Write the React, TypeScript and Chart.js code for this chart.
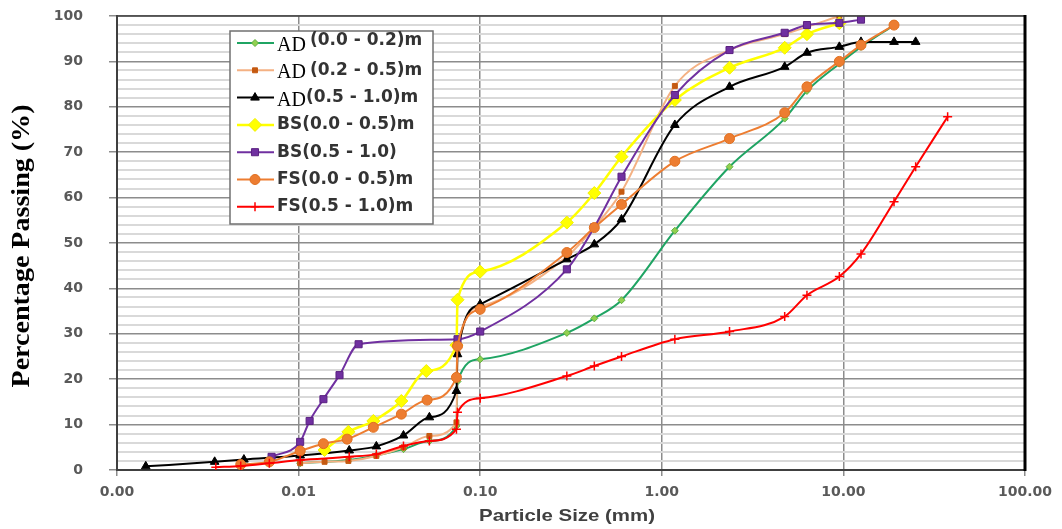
import React, { useEffect, useRef } from 'react';
import { Chart, registerables } from 'chart.js';
import { drawPoint } from 'chart.js/helpers';

Chart.register(...registerables);

// ---------- data (particle size in mm, percentage passing) ----------
const adTopSize = [0.0102, 0.019, 0.0268, 0.0378, 0.0525, 0.074, 0.075, 0.1, 0.3, 0.425, 0.6, 1.18, 2.36, 4.75, 6.3, 9.5, 12.5, 19];
const adTopPass = [1.5, 2.2, 3.2, 4.6, 6.4, 9.7, 19.5, 24.4, 30.2, 33.4, 37.4, 52.7, 66.8, 77.4, 83.5, 89.5, 93.2, 98];

const adMidSize = [0.0102, 0.0139, 0.0188, 0.0268, 0.0378, 0.0525, 0.074, 0.075, 0.1, 0.3, 0.425, 0.6, 1.18, 2.36, 4.75, 9.5];
const adMidPass = [1.5, 1.8, 2.0, 3.1, 5.0, 7.5, 10.5, 25.5, 36, 47, 53.5, 61.3, 84.6, 92.5, 96, 100];

const adDeepSize = [0.00144, 0.00345, 0.005, 0.0102, 0.019, 0.0268, 0.0378, 0.0525, 0.074, 0.075, 0.1, 0.3, 0.425, 0.6, 1.18, 2.36, 4.75, 6.3, 9.5, 12.5, 19, 25];
const adDeepPass = [0.8, 1.8, 2.3, 3.2, 4.3, 5.2, 7.6, 11.6, 17.4, 25.5, 36.5, 46.4, 49.7, 55.2, 76, 84.4, 88.8, 91.9, 93.2, 94.3, 94.3, 94.3];

const bsTopSize = [0.0139, 0.0188, 0.0258, 0.0368, 0.0505, 0.074, 0.075, 0.1, 0.3, 0.425, 0.6, 1.18, 2.36, 4.75, 6.3, 9.5];
const bsTopPass = [4.4, 8.4, 10.8, 15.2, 21.8, 27.5, 37.5, 43.7, 54.5, 61, 69, 81.5, 88.6, 93, 96, 98.4];

const bsDeepSize = [0.0071, 0.0102, 0.0115, 0.0137, 0.0168, 0.0214, 0.075, 0.1, 0.3, 0.425, 0.6, 1.18, 2.36, 4.75, 6.3, 9.5, 12.5];
const bsDeepPass = [2.9, 6.2, 10.8, 15.6, 20.9, 27.7, 28.8, 30.5, 44.2, 53.5, 64.6, 82.6, 92.5, 96.3, 98, 98.5, 99.2];

const fsTopSize = [0.0048, 0.0069, 0.0102, 0.0137, 0.0185, 0.0258, 0.0368, 0.051, 0.074, 0.075, 0.1, 0.3, 0.425, 0.6, 1.18, 2.36, 4.75, 6.3, 9.5, 12.5, 19];
const fsTopPass = [1.2, 1.8, 4.2, 5.8, 6.8, 9.4, 12.3, 15.4, 20.4, 27.3, 35.4, 47.9, 53.4, 58.5, 68, 73, 78.7, 84.4, 90, 93.6, 98];

const fsDeepSize = [0.0035, 0.0048, 0.0069, 0.0102, 0.019, 0.0268, 0.0378, 0.0525, 0.074, 0.075, 0.1, 0.3, 0.425, 0.6, 1.18, 2.36, 4.75, 6.3, 9.5, 12.5, 19, 25, 37.5];
const fsDeepPass = [0.6, 0.9, 1.5, 2.2, 2.9, 3.5, 5.3, 6.4, 9.0, 12.7, 15.8, 20.7, 22.9, 25, 28.8, 30.5, 33.8, 38.5, 42.6, 47.6, 59.1, 66.8, 77.8];

const seriesLabels = [
  'AD (0.0 - 0.2)m',
  'AD (0.2 - 0.5)m',
  'AD(0.5 - 1.0)m',
  'BS(0.0 - 0.5)m',
  'BS(0.5 - 1.0)',
  'FS(0.0 - 0.5)m',
  'FS(0.5 - 1.0)m',
];

const xTickValues = [0.001, 0.01, 0.1, 1, 10, 100];
const yTickStep = 2;
const yMajorStep = 10;

const xTitle = 'Particle Size (mm)';
const yTitle = 'Percentage Passing (%)';

// ---------- styling ----------
const styles = [
  { line: '#1fa463', fill: '#92d050', border: '#5fb040', point: 'rectRot', radius: 3.5, width: 2 },
  { line: '#f4b183', fill: '#c55a11', border: '#c55a11', point: 'rect', radius: 3.5, width: 2 },
  { line: '#000000', fill: '#000000', border: '#000000', point: 'triangle', radius: 5, width: 2 },
  { line: '#ffff00', fill: '#ffff00', border: '#f0f000', point: 'rectRot', radius: 6.5, width: 2.5 },
  { line: '#7030a0', fill: '#7030a0', border: '#5a2080', point: 'rect', radius: 5, width: 2 },
  { line: '#ed7d31', fill: '#ed7d31', border: '#e07020', point: 'circle', radius: 5, width: 2 },
  { line: '#ff0000', fill: '#ff0000', border: '#ff0000', point: 'cross', radius: 4.5, width: 2 },
];

const sizes = [adTopSize, adMidSize, adDeepSize, bsTopSize, bsDeepSize, fsTopSize, fsDeepSize];
const passes = [adTopPass, adMidPass, adDeepPass, bsTopPass, bsDeepPass, fsTopPass, fsDeepPass];

const decorPlugin = {
  id: 'decor',
  afterDraw(chart: any) {
    const { ctx, chartArea: a } = chart;
    ctx.save();
    // top and right frame
    ctx.strokeStyle = '#404040';
    ctx.lineWidth = 1.5;
    ctx.beginPath();
    ctx.moveTo(a.left, a.top);
    ctx.lineTo(a.right, a.top);
    ctx.stroke();
    ctx.strokeStyle = '#000000';
    ctx.lineWidth = 3;
    ctx.beginPath();
    ctx.moveTo(a.right, a.top - 1);
    ctx.lineTo(a.right, a.bottom + 1);
    ctx.stroke();

    // legend box
    const lg = { left: 230, top: 31, right: 433, bottom: 224 };
    ctx.fillStyle = '#ffffff';
    ctx.fillRect(lg.left, lg.top, lg.right - lg.left, lg.bottom - lg.top);
    ctx.strokeStyle = '#707070';
    ctx.lineWidth = 1.5;
    ctx.strokeRect(lg.left, lg.top, lg.right - lg.left, lg.bottom - lg.top);

    seriesLabels.forEach((label, i) => {
      const st = styles[i];
      const y = lg.top + 12 + i * 27.3;
      ctx.strokeStyle = st.line;
      ctx.lineWidth = st.width;
      ctx.beginPath();
      ctx.moveTo(237, y);
      ctx.lineTo(274, y);
      ctx.stroke();
      ctx.fillStyle = st.fill;
      ctx.strokeStyle = st.border;
      ctx.lineWidth = st.point === 'cross' ? 1.5 : 1;
      drawPoint(ctx, { pointStyle: st.point, radius: st.radius, rotation: 0, borderWidth: ctx.lineWidth }, 255, y);

      let x = 277;
      ctx.textAlign = 'left';
      if (label.startsWith('AD')) {
        ctx.font = '20px "Liberation Serif"';
        ctx.fillStyle = '#000000';
        ctx.textBaseline = 'alphabetic';
        ctx.fillText('AD', x, y + 8);
        x += ctx.measureText('AD').width;
        let rest = label.slice(2);
        if (rest.startsWith(' ')) {
          rest = rest.slice(1);
          x += 4;
        }
        ctx.font = 'bold 17px "DejaVu Sans"';
        ctx.fillStyle = '#333333';
        ctx.textBaseline = 'middle';
        ctx.fillText(rest, x, y + (i === 0 ? -2 : 0));
      } else {
        ctx.font = 'bold 17px "DejaVu Sans"';
        ctx.fillStyle = '#333333';
        ctx.textBaseline = 'middle';
        ctx.fillText(label, x, y);
      }
    });

    // axis titles
    ctx.save();
    ctx.translate(22, 246);
    ctx.rotate(-Math.PI / 2);
    ctx.font = 'bold 26px "Liberation Serif"';
    const wy = ctx.measureText(yTitle).width;
    ctx.scale(283 / wy, 1);
    ctx.fillStyle = '#000000';
    ctx.textAlign = 'center';
    ctx.textBaseline = 'middle';
    ctx.fillText(yTitle, 0, 0);
    ctx.restore();

    ctx.save();
    ctx.translate(567, 516);
    ctx.font = 'bold 17px "Liberation Sans"';
    const wx = ctx.measureText(xTitle).width;
    ctx.scale(176 / wx, 1);
    ctx.fillStyle = '#404040';
    ctx.textAlign = 'center';
    ctx.textBaseline = 'middle';
    ctx.fillText(xTitle, 0, 0);
    ctx.restore();

    ctx.restore();
  },
};

export default function App() {
  const canvasRef = useRef<HTMLCanvasElement | null>(null);

  useEffect(() => {
    const canvas = canvasRef.current;
    if (!canvas) return;
    const datasets = seriesLabels.map((label, i) => {
      const st = styles[i];
      return {
        label,
        data: sizes[i].map((s, k) => ({ x: s, y: passes[i][k] })),
        borderColor: st.line,
        borderWidth: st.width,
        backgroundColor: st.fill,
        pointBackgroundColor: st.fill,
        pointBorderColor: st.border,
        pointBorderWidth: st.point === 'cross' ? 1.5 : 1,
        pointStyle: st.point,
        pointRadius: st.radius,
        fill: false,
        cubicInterpolationMode: 'monotone',
        order: seriesLabels.length - i,
      };
    });

    const chart = new Chart(canvas, {
      type: 'line',
      data: { datasets } as any,
      plugins: [decorPlugin],
      options: {
        responsive: false,
        devicePixelRatio: 1,
        animation: false,
        layout: { padding: { top: 16, right: 37, left: 0, bottom: 0 }, autoPadding: false },
        plugins: { legend: { display: false }, tooltip: { enabled: false } },
        scales: {
          x: {
            type: 'logarithmic',
            min: 0.001,
            max: 100,
            afterBuildTicks: (s: any) => {
              s.ticks = xTickValues.map((v) => ({ value: v }));
            },
            afterFit: (s: any) => {
              s.height = 59;
              s.paddingLeft = 0;
              s.paddingRight = 0;
            },
            ticks: {
              autoSkip: false,
              maxRotation: 0,
              padding: 8,
              color: '#595959',
              font: { family: 'DejaVu Sans', size: 14, weight: 'bold' },
              callback: (v: any) => Number(v).toFixed(2),
            },
            grid: { color: '#8c8c8c', lineWidth: 1.5, tickLength: 6, tickColor: '#8c8c8c' },
            border: { color: '#404040', width: 2 },
          },
          y: {
            type: 'linear',
            min: 0,
            max: 100,
            afterFit: (s: any) => {
              s.width = 117;
              s.paddingTop = 0;
              s.paddingBottom = 0;
            },
            ticks: {
              stepSize: yTickStep,
              autoSkip: false,
              padding: 26,
              color: '#595959',
              font: { family: 'DejaVu Sans', size: 14, weight: 'bold' },
              callback: (v: any) => (Number(v) % yMajorStep === 0 ? String(v) : ''),
            },
            grid: {
              color: (c: any) => (c.tick && c.tick.value % yMajorStep === 0 ? '#8c8c8c' : '#d9d9d9'),
              lineWidth: (c: any) => (c.tick && c.tick.value % yMajorStep === 0 ? 1.5 : 2),
              tickLength: 8,
              tickColor: (c: any) => (c.tick && c.tick.value % yMajorStep === 0 ? '#8c8c8c' : 'rgba(0,0,0,0)'),
            },
            border: { color: '#404040', width: 2 },
          },
        },
      } as any,
    });
    return () => chart.destroy();
  }, []);

  return (
    <div style={{ position: 'absolute', left: 0, top: 0, width: 1062, height: 529, background: '#ffffff' }}>
      <canvas ref={canvasRef} width={1062} height={529} style={{ display: 'block' }} />
    </div>
  );
}
